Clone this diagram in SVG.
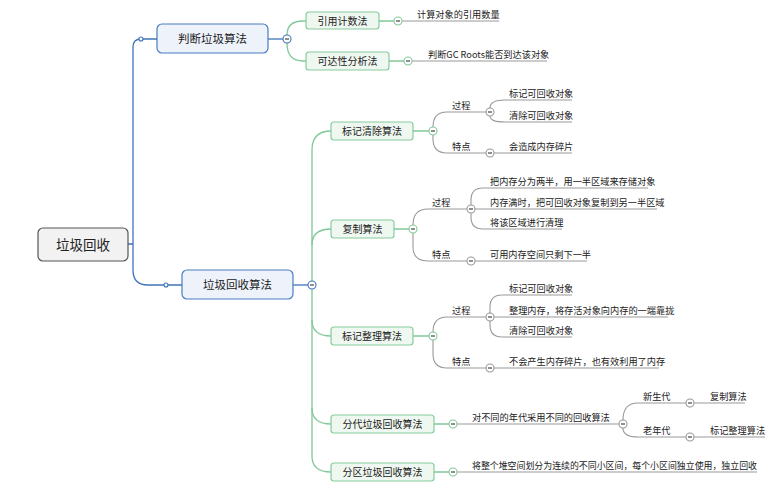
<svg xmlns="http://www.w3.org/2000/svg" width="778" height="489" viewBox="0 0 778 489">
<style>
text{font-family:"Noto Sans CJK SC","Noto Sans",sans-serif;fill:#222}
.root rect{fill:#f2f2f2;stroke:#555;stroke-width:1.2}
.root text{font-size:13.5px;text-anchor:middle}
.l1 rect{fill:#edf2fb;stroke:#4a7dc1;stroke-width:1.2}
.l1 text{font-size:11.5px;text-anchor:middle}
.l2 rect{fill:#eff7f1;stroke:#86cc9c;stroke-width:1.2}
.l2 text{font-size:10px;text-anchor:middle}
.lb text{font-size:9.2px}
.blue{fill:none;stroke:#3f74bb;stroke-width:1.3}
.green{fill:none;stroke:#80c897;stroke-width:1.3}
.grey{fill:none;stroke:#999;stroke-width:1.1}
.cb{fill:#fff;stroke:#3f74bb;stroke-width:1.1}
.cg{fill:#fff;stroke:#80c897;stroke-width:1.1}
.cy{fill:#fff;stroke:#999;stroke-width:1.1}
.mb{stroke:#333;stroke-width:1.1}
</style>
<defs>
<g id="minus"><line x1="-2" y1="0" x2="2" y2="0" class="mb"/></g>
</defs>
<g id="connectors">
  <path class="blue" d="M128,244 H133 M133,244 V47 Q133,39 141,39 H157"/>
  <path class="blue" d="M133,244 V270 Q133,285 148,285 H182"/>
  <path class="blue" d="M268,39 H283"/>
  <path class="blue" d="M293,285 H308"/>
  <circle class="cb" cx="141" cy="39" r="2"/>
  <circle class="cb" cx="166" cy="285" r="2"/>
  <path class="green" d="M287,35 Q287,21 303,21 H306"/>
  <path class="green" d="M287,43 Q287,61 303,61 H306"/>
  <path class="green" d="M312,150 Q312,131 331,131"/>
  <path class="green" d="M312,150 V456 Q312,472 331,472"/>
  <path class="green" d="M312,245 Q312,229 331,229"/>
  <path class="green" d="M312,320 Q312,336 331,336"/>
  <path class="green" d="M312,408 Q312,424 331,424"/>
  <path class="green" d="M379,21 H394 M389,61 H404 M413,131 H429 M394,229 H409 M413,336 H429 M434,424 H449 M434,472 H449"/>
  <path class="grey" d="M402,21 H499"/>
  <path class="grey" d="M412,61 H547"/>
  <path class="grey" d="M433,127 Q433,112 447,112 H486"/>
  <path class="grey" d="M433,135 V139 Q433,153 447,153 H486"/>
  <path class="grey" d="M490,108 Q490,100 505,100 H572"/>
  <path class="grey" d="M490,116 Q490,122 505,122 H572"/>
  <path class="grey" d="M494,153 H572"/>
  <path class="grey" d="M413,225 Q413,209 428,209 H467"/>
  <path class="grey" d="M413,233 V247 Q413,261 428,261 H467"/>
  <path class="grey" d="M471,205 V200 Q471,188 483,188 H648"/>
  <path class="grey" d="M475,209 H657"/>
  <path class="grey" d="M471,213 V217 Q471,229 483,229 H562"/>
  <path class="grey" d="M475,261 H587"/>
  <path class="grey" d="M433,332 Q433,317 447,317 H486"/>
  <path class="grey" d="M433,340 V354 Q433,368 447,368 H486"/>
  <path class="grey" d="M490,313 V307 Q490,295 502,295 H572"/>
  <path class="grey" d="M494,317 H668"/>
  <path class="grey" d="M490,321 V325 Q490,337 502,337 H572"/>
  <path class="grey" d="M494,368 H659"/>
  <path class="grey" d="M457,424 H619"/>
  <path class="grey" d="M623,420 Q623,403 638,403 H686"/>
  <path class="grey" d="M623,428 Q623,437 638,437 H686"/>
  <path class="grey" d="M694,403 H745"/>
  <path class="grey" d="M694,437 H765"/>
  <path class="grey" d="M457,472 H757"/>
  <circle class="cb" cx="287" cy="39" r="4"/><use href="#minus" x="287" y="39"/>
  <circle class="cb" cx="312" cy="285" r="4"/><use href="#minus" x="312" y="285"/>
  <circle class="cg" cx="398" cy="21" r="4"/><use href="#minus" x="398" y="21"/>
  <circle class="cg" cx="408" cy="61" r="4"/><use href="#minus" x="408" y="61"/>
  <circle class="cg" cx="433" cy="131" r="4"/><use href="#minus" x="433" y="131"/>
  <circle class="cg" cx="413" cy="229" r="4"/><use href="#minus" x="413" y="229"/>
  <circle class="cg" cx="433" cy="336" r="4"/><use href="#minus" x="433" y="336"/>
  <circle class="cg" cx="453" cy="424" r="4"/><use href="#minus" x="453" y="424"/>
  <circle class="cg" cx="453" cy="472" r="4"/><use href="#minus" x="453" y="472"/>
  <circle class="cy" cx="490" cy="112" r="4"/><use href="#minus" x="490" y="112"/>
  <circle class="cy" cx="490" cy="153" r="4"/><use href="#minus" x="490" y="153"/>
  <circle class="cy" cx="471" cy="209" r="4"/><use href="#minus" x="471" y="209"/>
  <circle class="cy" cx="471" cy="261" r="4"/><use href="#minus" x="471" y="261"/>
  <circle class="cy" cx="490" cy="317" r="4"/><use href="#minus" x="490" y="317"/>
  <circle class="cy" cx="490" cy="368" r="4"/><use href="#minus" x="490" y="368"/>
  <circle class="cy" cx="623" cy="424" r="4"/><use href="#minus" x="623" y="424"/>
  <circle class="cy" cx="690" cy="403" r="4"/><use href="#minus" x="690" y="403"/>
  <circle class="cy" cx="690" cy="437" r="4"/><use href="#minus" x="690" y="437"/>
</g>
<g id="root" class="root"><rect x="38" y="228" width="90" height="33" rx="5"/><text x="83" y="249.5">垃圾回收</text></g>
<g id="judge" class="l1"><rect x="157" y="24" width="111" height="29" rx="5"/><text x="212.5" y="42.5">判断垃圾算法</text></g>
<g id="gcalgo" class="l1"><rect x="182" y="270" width="111" height="29" rx="5"/><text x="237.5" y="288.5">垃圾回收算法</text></g>
<g id="refcount" class="l2"><rect x="306" y="12" width="73" height="17" rx="3"/><text x="342.5" y="24.5">引用计数法</text></g>
<g id="reach" class="l2"><rect x="306" y="52" width="83" height="18" rx="3"/><text x="347.5" y="64.5">可达性分析法</text></g>
<g id="marksweep" class="l2"><rect x="331" y="122" width="82" height="18" rx="3"/><text x="372" y="134.5">标记清除算法</text></g>
<g id="copy" class="l2"><rect x="331" y="220" width="63" height="18" rx="3"/><text x="362.5" y="232.5">复制算法</text></g>
<g id="markcompact" class="l2"><rect x="331" y="327" width="82" height="18" rx="3"/><text x="372" y="339.5">标记整理算法</text></g>
<g id="generational" class="l2"><rect x="331" y="415" width="103" height="18" rx="3"/><text x="382.5" y="427.5">分代垃圾回收算法</text></g>
<g id="region" class="l2"><rect x="331" y="463" width="103" height="18" rx="3"/><text x="382.5" y="475.5">分区垃圾回收算法</text></g>
<g id="labels" class="lb">
  <g id="t1"><text x="417" y="17.5">计算对象的引用数量</text></g>
  <g id="t2"><text x="428" y="57.5">判断GC Roots能否到达该对象</text></g>
  <g id="t3"><text x="452" y="108.5">过程</text></g>
  <g id="t4"><text x="452" y="149.5">特点</text></g>
  <g id="t5"><text x="509" y="96.5">标记可回收对象</text></g>
  <g id="t6"><text x="509" y="118.5">清除可回收对象</text></g>
  <g id="t7"><text x="509" y="149.5">会造成内存碎片</text></g>
  <g id="t8"><text x="432" y="205.5">过程</text></g>
  <g id="t9"><text x="432" y="257.5">特点</text></g>
  <g id="t10"><text x="490" y="184.5">把内存分为两半，用一半区域来存储对象</text></g>
  <g id="t11"><text x="490" y="205.5">内存满时，把可回收对象复制到另一半区域</text></g>
  <g id="t12"><text x="490" y="225.5">将该区域进行清理</text></g>
  <g id="t13"><text x="490" y="257.5">可用内存空间只剩下一半</text></g>
  <g id="t14"><text x="452" y="313.5">过程</text></g>
  <g id="t15"><text x="452" y="364.5">特点</text></g>
  <g id="t16"><text x="509" y="291.5">标记可回收对象</text></g>
  <g id="t17"><text x="509" y="313.5">整理内存，将存活对象向内存的一端靠拢</text></g>
  <g id="t18"><text x="509" y="333.5">清除可回收对象</text></g>
  <g id="t19"><text x="509" y="364.5">不会产生内存碎片，也有效利用了内存</text></g>
  <g id="t20"><text x="472" y="420.5">对不同的年代采用不同的回收算法</text></g>
  <g id="t21"><text x="643" y="399.5">新生代</text></g>
  <g id="t22"><text x="643" y="433.5">老年代</text></g>
  <g id="t23"><text x="710" y="399.5">复制算法</text></g>
  <g id="t24"><text x="710" y="433.5">标记整理算法</text></g>
  <g id="t25"><text x="472" y="468.5" textLength="285" lengthAdjust="spacingAndGlyphs">将整个堆空间划分为连续的不同小区间，每个小区间独立使用，独立回收</text></g>
</g>
</svg>
